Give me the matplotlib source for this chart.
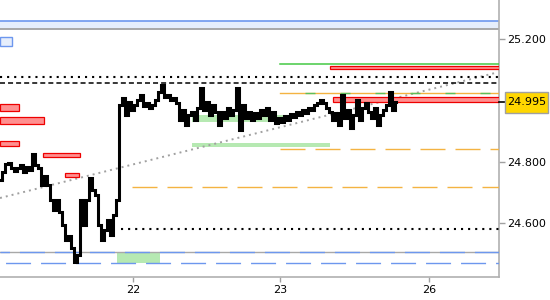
import matplotlib
matplotlib.use("Agg")
import matplotlib.pyplot as plt
from matplotlib.patches import Rectangle
import matplotlib.transforms as mtrans

plt.rcParams['font.family'] = ['DejaVu Sans']
plt.rcParams['lines.scale_dashes'] = False

# ---- data (bar index ~ 30 min bars) ----
close = [24.741, 24.767, 24.794, 24.797, 24.780, 24.771, 24.780, 24.790, 24.767, 24.784,
         24.774, 24.826, 24.790, 24.780, 24.725, 24.754, 24.725, 24.676, 24.644, 24.676,
         24.637, 24.595, 24.546, 24.559, 24.520, 24.475, 24.498, 24.676, 24.595, 24.676,
         24.748, 24.709, 24.693, 24.595, 24.546, 24.579, 24.611, 24.563, 24.628, 24.676,
         24.985, 25.008, 24.953, 24.995, 24.969, 24.985, 25.002, 25.018, 24.982, 24.992,
         24.976, 24.985, 25.002, 25.028, 25.050, 25.011, 25.018, 25.002, 25.008, 24.992,
         24.937, 24.969, 24.920, 24.953, 24.963, 24.937, 24.976, 25.041, 24.969, 24.995,
         24.953, 24.985, 24.963, 24.920, 24.963, 24.943, 24.976, 24.953, 24.969, 25.041,
         24.904, 24.985, 24.943, 24.963, 24.937, 24.959, 24.943, 24.969, 24.953, 24.976,
         24.937, 24.963, 24.927, 24.943, 24.930, 24.950, 24.937, 24.956, 24.946, 24.963,
         24.953, 24.969, 24.959, 24.976, 24.969, 24.985, 24.992, 25.002, 24.992, 24.976,
         24.963, 24.937, 24.959, 24.920, 25.018, 24.943, 24.969, 24.910, 24.953, 25.002,
         24.937, 24.976, 24.992, 24.963, 24.943, 24.976, 24.920, 24.953, 24.969, 24.985,
         25.028, 24.969, 24.995]
bar_index = list(range(len(close)))

x_tick_pos = [44.33, 93.33, 143.0]
x_tick_labels = ["22", "23", "26"]
y_tick_vals = [25.2, 24.8, 24.6]
y_tick_labels = ["25.200", "24.800", "24.600"]
last_price = 24.995
last_label = "24.995"

x_range = [0, 166.33]
y_range = [24.426, 25.3268]

# horizontal levels: (y, x_start)
black_dotted_levels = [(25.0764, 0), (24.5821, 40.3)]
black_dashed_level = (25.0569, 0)
green_line_level = (25.1187, 93.3)
orange_green_level = (25.0244, 93.3)
orange_dashed_levels = [(24.8423, 93.3), (24.7187, 44.0)]
blue_grey_level = (24.5073, 0)
blue_dashed_level = (24.4715, 0)

# trend line endpoints
trend_x = [0, 165]
trend_y = [24.6829, 25.0894]

# zones: (x0, x1, y0, y1)
red_zones = [(0, 6.3, 24.9659, 24.9886), (0, 14.7, 24.9236, 24.9463),
             (0, 6.3, 24.8520, 24.8683), (14.3, 26.7, 24.8163, 24.8293),
             (21.7, 26.3, 24.7512, 24.7642),
             (110.0, 166.33, 25.1024, 25.1122), (111.0, 166.33, 24.9951, 25.0114)]
green_zones = [(64.0, 95.7, 24.9301, 24.9529), (64.0, 110.0, 24.8488, 24.8618),
               (39.0, 53.3, 24.4715, 24.5073)]
blue_band = (0, 166.33, 25.2325, 25.2585)
blue_box = (0, 4.0, 25.1772, 25.2065)

# ---- figure ----
fig = plt.figure(figsize=(5.5, 3.0), dpi=100)
ax = fig.add_axes([0, 23 / 300, 499 / 550, 277 / 300])
ax.set_xlim(*x_range)
ax.set_ylim(*y_range)

xmax = x_range[1]

# blue band at top
x0, x1, y0, y1 = blue_band
ax.add_patch(Rectangle((x0, y0), x1 - x0, y1 - y0, facecolor='#e6eefc', edgecolor='none', zorder=1))
ax.plot([x0, x1], [y1, y1], color='#6d97ee', lw=1.2, zorder=2)
ax.plot([x0, x1], [y0, y0], color='#a8a8a8', lw=1.4, zorder=2)
x0, x1, y0, y1 = blue_box
ax.add_patch(Rectangle((x0, y0), x1 - x0, y1 - y0, facecolor='#e6eefc', edgecolor='#6d97ee', lw=1.0, zorder=2))

# green zones
for (x0, x1, y0, y1) in green_zones:
    ax.add_patch(Rectangle((x0, y0), x1 - x0, y1 - y0, facecolor='#b6e9b2', edgecolor='none', zorder=1))

# red zones
for (x0, x1, y0, y1) in red_zones:
    ax.add_patch(Rectangle((x0, y0), x1 - x0, y1 - y0, facecolor='#ff9090', edgecolor='#ee0000', lw=0.9, zorder=3))

# levels
for (y, xs) in black_dotted_levels:
    ax.plot([xs, xmax], [y, y], color='black', lw=1.5, ls=(0, (1.5, 3.6)), zorder=4)
y, xs = black_dashed_level
ax.plot([xs, xmax], [y, y], color='black', lw=1.1, ls=(0, (3.6, 2.2)), zorder=4)
y, xs = green_line_level
ax.plot([xs, xmax], [y, y], color='#44c944', lw=1.1, zorder=3)
y, xs = orange_green_level
ax.plot([xs, xmax], [y, y], color='#f4b342', lw=1.0, zorder=3)
ax.plot([xs, xmax], [y, y], color='#5cbf5c', lw=1.0, ls=(-18.0, (7.2, 18.0)), zorder=3)
for (y, xs) in orange_dashed_levels:
    ax.plot([xs, xmax], [y, y], color='#f4b342', lw=1.0, ls=(0, (18.0, 7.2)), zorder=3)
y, xs = blue_grey_level
ax.plot([xs, xmax], [y, y], color='#a8a8a8', lw=1.0, zorder=3)
ax.plot([xs, xmax], [y, y], color='#6d97ee', lw=1.0, ls=(-14.0, (18.0, 7.2)), zorder=3)
y, xs = blue_dashed_level
ax.plot([xs, xmax], [y, y], color='#6d97ee', lw=1.0, ls=(-4.0, (18.0, 7.2)), zorder=3)

# trend line
ax.plot(trend_x, trend_y, color='#a0a0a0', lw=1.4, ls=(0, (1.4, 2.9)), zorder=2)

# price line
ax.plot(bar_index, close, color='black', lw=2.2, drawstyle='steps-mid', zorder=5, solid_joinstyle='miter')

# axes styling
for s in ['left', 'top']:
    ax.spines[s].set_visible(False)
for s in ['bottom', 'right']:
    ax.spines[s].set_color('#b0b0b0')
    ax.spines[s].set_linewidth(1.2)
ax.yaxis.tick_right()
ax.set_yticks(y_tick_vals)
ax.set_yticklabels(y_tick_labels)
ax.set_xticks(x_tick_pos)
ax.set_xticklabels(x_tick_labels)
ax.tick_params(axis='y', colors='#a0a0a0', labelcolor='black', length=4, width=1, pad=2, labelsize=8)
ax.tick_params(axis='x', colors='#a0a0a0', labelcolor='black', length=3.5, width=1, pad=2, labelsize=8)

# current price marker
trans = mtrans.blended_transform_factory(ax.transAxes, ax.transData)
ax.plot([1.0, 1.012], [last_price, last_price], color='black', lw=1.2, transform=trans, clip_on=False, zorder=6)
box_h = 21 / 307.5
ax.add_patch(Rectangle((505 / 499, last_price - box_h / 2), 43 / 499, box_h, transform=trans,
                       facecolor='#ffd700', edgecolor='#a0a0a0', lw=1.0, clip_on=False, zorder=7))
ax.text(1.0 + 27.5 / 499, last_price, last_label, transform=trans, fontsize=8, va='center', ha='center',
        color='black', zorder=8, clip_on=False)

fig.savefig('out.png', dpi=100)
